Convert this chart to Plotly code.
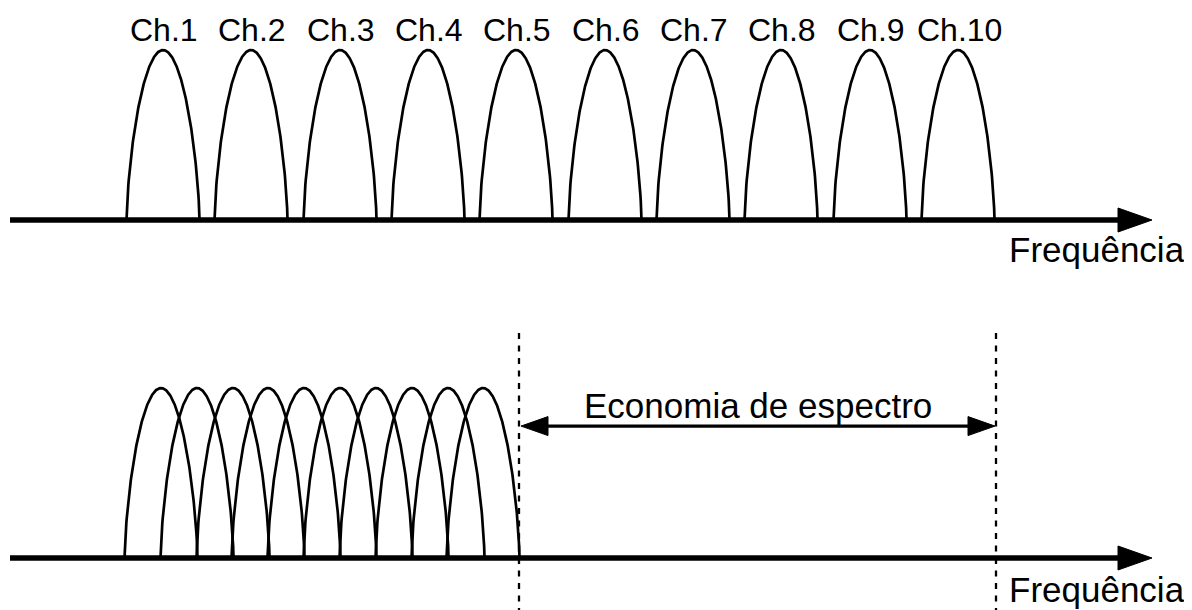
import numpy as np
import plotly.graph_objects as go

# ---- data (x in frequency units, y in amplitude units) ----
channels = [f"Ch.{i}" for i in range(1, 11)]
top_centers = [163, 251, 340, 428, 516, 605, 693, 781, 870, 958]
bottom_centers = [161, 197, 233, 268, 304, 340, 376, 412, 448, 483]
channel_halfwidth = 36.5
peak_amplitude = 1.0
axis_start = 10
axis_end = 1152
saving_start = 519
saving_end = 996
saving_level = 0.776
axis_label = "Frequência"
saving_label = "Economia de espectro"

# ---- styling ----
FONT = "Liberation Sans, Arial, sans-serif"
WIN_W, WIN_H = 1192, 610
OFF = 8  # default page body margin
W, H = WIN_W - OFF, WIN_H - OFF
PX_PER_UNIT = 170.0
TOP_BASE_PX, BOT_BASE_PX = 220, 558


def ty(px):
    return (TOP_BASE_PX - px) / PX_PER_UNIT


def by(px):
    return (BOT_BASE_PX - px) / PX_PER_UNIT


top_range = [ty(WIN_H), ty(OFF)]
bot_range = [by(WIN_H), by(OFF)]

fig = go.Figure()

u = np.linspace(-1, 1, 201)
shape = peak_amplitude * (1 - u ** 2) ** 0.68


def arch(center, yaxis):
    fig.add_trace(go.Scatter(x=center + channel_halfwidth * u, y=shape, mode="lines",
                             line=dict(color="black", width=2.7), yaxis=yaxis,
                             hoverinfo="skip", showlegend=False))


def axis_arrow(yaxis):
    head_len, head_half = 34, 12 / PX_PER_UNIT
    fig.add_trace(go.Scatter(x=[axis_start, axis_end - head_len], y=[0, 0], mode="lines",
                             line=dict(color="black", width=5.5), yaxis=yaxis,
                             hoverinfo="skip", showlegend=False))
    fig.add_trace(go.Scatter(x=[axis_end - head_len, axis_end, axis_end - head_len, axis_end - head_len],
                             y=[head_half, 0, -head_half, head_half], mode="lines", fill="toself",
                             fillcolor="black", line=dict(color="black", width=1), yaxis=yaxis,
                             hoverinfo="skip", showlegend=False))


for c in top_centers:
    arch(c, "y")
axis_arrow("y")

for c in bottom_centers:
    arch(c, "y2")
axis_arrow("y2")

# dotted boundaries
for xv in [saving_start, saving_end]:
    fig.add_trace(go.Scatter(x=[xv, xv], y=[by(333), bot_range[0]],
                             mode="lines", line=dict(color="black", width=2.3, dash="6px,6.5px"),
                             yaxis="y2", hoverinfo="skip", showlegend=False))

# double arrow
hl, hh = 27, 9.5 / PX_PER_UNIT
a0, a1 = saving_start + 2, saving_end - 1
fig.add_trace(go.Scatter(x=[a0 + hl - 2, a1 - hl + 2], y=[saving_level, saving_level], mode="lines",
                         line=dict(color="black", width=3.2), yaxis="y2",
                         hoverinfo="skip", showlegend=False))
for tip, base in [(a0, a0 + hl), (a1, a1 - hl)]:
    fig.add_trace(go.Scatter(x=[base, tip, base, base],
                             y=[saving_level + hh, saving_level, saving_level - hh, saving_level + hh],
                             mode="lines", fill="toself", fillcolor="black",
                             line=dict(color="black", width=1), yaxis="y2",
                             hoverinfo="skip", showlegend=False))

annotations = []
for name, c in zip(channels, top_centers):
    annotations.append(dict(x=c + 1, y=ty(29.5), xref="x", yref="y", text=name,
                            showarrow=False, xanchor="center", yanchor="middle",
                            font=dict(family=FONT, size=32, color="black")))
annotations.append(dict(x=1187, y=ty(249), xref="x", yref="y", text=axis_label,
                        showarrow=False, xanchor="right", yanchor="middle",
                        font=dict(family=FONT, size=35, color="black")))
annotations.append(dict(x=1187, y=by(589), xref="x", yref="y2", text=axis_label,
                        showarrow=False, xanchor="right", yanchor="middle",
                        font=dict(family=FONT, size=35, color="black")))
annotations.append(dict(x=(saving_start + saving_end) / 2, y=by(405), xref="x", yref="y2",
                        text=saving_label, showarrow=False, xanchor="center", yanchor="middle",
                        font=dict(family=FONT, size=35, color="black")))

fig.update_layout(
    width=W, height=H, margin=dict(l=0, r=0, t=0, b=0),
    paper_bgcolor="white", plot_bgcolor="white",
    xaxis=dict(range=[OFF, WIN_W], visible=False, fixedrange=True),
    yaxis=dict(range=top_range, visible=False, fixedrange=True),
    yaxis2=dict(range=bot_range, visible=False, overlaying="y", fixedrange=True),
    annotations=annotations, showlegend=False,
)

fig.write_html("out.html")
